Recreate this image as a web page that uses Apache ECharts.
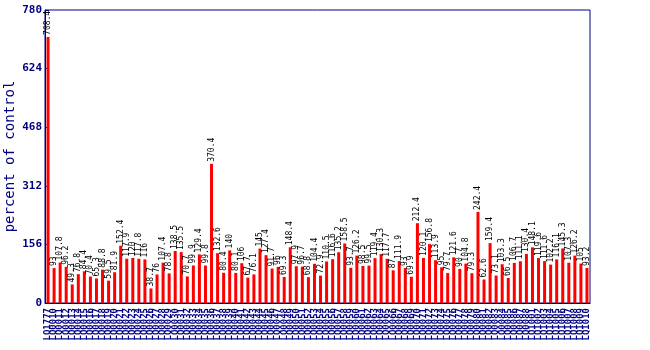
<!DOCTYPE html>
<html><head><meta charset="utf-8">
<script src="https://cdn.jsdelivr.net/npm/echarts@6/dist/echarts.min.js"></script>
<style>html,body{margin:0;padding:0;background:#fff}#c{width:650px;height:350px}</style>
</head><body><div id="c"></div>
<script>
var categories = ["LQ1777"];
(function(){
  for (var i = 10; i <= 88; i++) categories.push("LQ00" + (i < 10 ? "0" + i : i));
  for (var j = 1; j <= 10; j++) categories.push("LQ10" + (j < 10 ? "0" + j : j));
})();
var values = [708.4, 93, 107.8, 96.2, 49.3, 76.8, 84.4, 70.4, 65.3, 88.8,
  59.5, 81.9, 152.4, 117.9, 120, 117.8, 116, 38.7, 76, 107.4,
  78.8, 138.5, 135.5, 70.7, 99.9, 129.4, 99.8, 370.4, 132.6, 80.4,
  140, 80.1, 106, 67.7, 76.1, 145, 127.4, 91.7, 96, 69.3,
  148.4, 97.9, 96.7, 68.8, 104.4, 72.9, 110.5, 116.6, 135.2, 158.5,
  93.7, 126.2, 98.5, 99.5, 119.4, 130.3, 117.7, 87, 111.9, 93,
  69.9, 212.4, 120.1, 156.8, 113.9, 95, 79.7, 121.6, 90.7, 104.8,
  79.3, 242.4, 62.6, 159.4, 73.1, 103.3, 66.5, 106.7, 111.1, 130.4,
  148.1, 119.6, 111.6, 102.2, 116.1, 145.3, 107.3, 126.2, 105, 93.2];
var yTicks = [0, 156, 312, 468, 624, 780];
var navy = '#000080';
var chart = echarts.init(document.getElementById('c'), null, {renderer: 'canvas'});
chart.setOption({
  animation: false,
  backgroundColor: '#fff',
  grid: {left: 45, right: 60, top: 10, bottom: 47, show: true, borderColor: navy, borderWidth: 1,
    containLabel: false, outerBoundsMode: 'none'},
  xAxis: {
    type: 'category', data: categories,
    axisLine: {lineStyle: {color: navy, width: 1}},
    axisTick: {show: false},
    axisLabel: {interval: 0, rotate: 90, color: navy, fontFamily: 'DejaVu Sans Mono', fontWeight: 'bold', fontSize: 9, margin: 5}
  },
  yAxis: {
    type: 'value', min: yTicks[0], max: yTicks[yTicks.length - 1], interval: 156,
    name: 'percent of control', nameLocation: 'middle', nameGap: 28, nameMoveOverlap: false,
    nameTextStyle: {color: navy, fontFamily: 'DejaVu Sans Mono', fontSize: 14},
    axisLine: {show: true, lineStyle: {color: navy}},
    axisTick: {show: true, inside: true, length: 4, lineStyle: {color: navy}},
    splitLine: {show: false},
    axisLabel: {color: navy, fontFamily: 'DejaVu Sans Mono', fontWeight: 'bold', fontSize: 11, margin: 3}
  },
  series: [{
    type: 'bar', data: values, barWidth: 3,
    itemStyle: {color: '#ff0000'},
    label: {show: true, position: 'top', rotate: 90, align: 'left', verticalAlign: 'middle', distance: 2,
      color: '#000', fontFamily: 'DejaVu Sans Mono', fontSize: 8,
      formatter: function(p){ return String(p.value); }}
  }]
});
</script></body></html>
